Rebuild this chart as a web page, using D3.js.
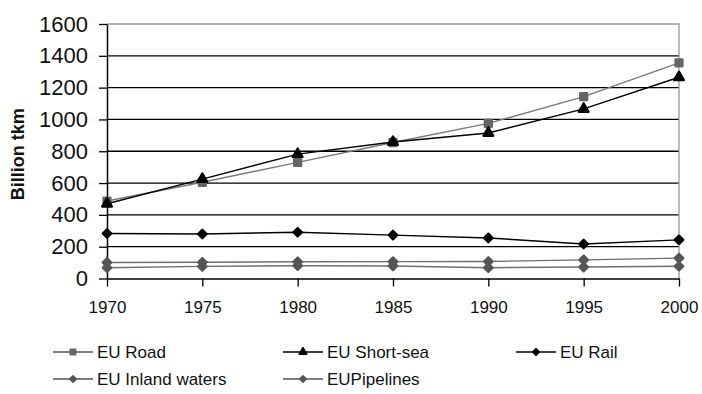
<!DOCTYPE html>
<html>
<head>
<meta charset="utf-8">
<script src="https://cdn.jsdelivr.net/npm/d3@7"></script>
<style>
  html, body { margin: 0; padding: 0; background: #fff; }
  svg { display: block; font-family: "Liberation Sans", Arial, sans-serif; }
</style>
</head>
<body>
<svg id="chart" width="702" height="394"></svg>
<script>
// Freight transport performance, EU, billion tonne-km
const years = [1970, 1975, 1980, 1985, 1990, 1995, 2000];
const road      = [487, 605, 730, 855, 975, 1143, 1356];
const shortSea  = [470, 625, 782, 858, 915, 1066, 1265];
const rail      = [283, 280, 291, 273, 255, 217, 243];
const inland    = [101, 102, 105, 106, 107, 117, 128];
const pipelines = [68, 76, 80, 79, 68, 72, 77];
const yTicks = [0, 200, 400, 600, 800, 1000, 1200, 1400, 1600];
const seriesNames = ["EU Road", "EU Short-sea", "EU Rail", "EU Inland waters", "EUPipelines"];

const series = [
  { name: seriesNames[0], values: road,      line: "#7a7a7a", fill: "#666", symbol: "square" },
  { name: seriesNames[1], values: shortSea,  line: "#000",    fill: "#000", symbol: "triangle" },
  { name: seriesNames[2], values: rail,      line: "#000",    fill: "#000", symbol: "diamond" },
  { name: seriesNames[3], values: inland,    line: "#6e6e6e", fill: "#555", symbol: "diamond" },
  { name: seriesNames[4], values: pipelines, line: "#6e6e6e", fill: "#555", symbol: "diamond" }
];

const svg = d3.select("#chart");
const m = { left: 107, right: 679, top: 24, bottom: 278.5 };

const x = d3.scaleLinear().domain([1970, 2000]).range([m.left, m.right]);
const y = d3.scaleLinear().domain([0, 1600]).range([m.bottom, m.top]);

// horizontal gridlines
svg.append("g")
  .selectAll("line")
  .data(yTicks.filter(d => d > 0 && d < 1600))
  .join("line")
  .attr("x1", m.left).attr("x2", m.right)
  .attr("y1", d => y(d)).attr("y2", d => y(d))
  .attr("stroke", "#000").attr("stroke-width", 1.3);

// plot area border (top and right)
svg.append("path")
  .attr("d", `M${m.left},${y(1600)}H${m.right}V${m.bottom}`)
  .attr("fill", "none").attr("stroke", "#999").attr("stroke-width", 1.3);

// y axis
const yAxis = svg.append("g")
  .attr("transform", `translate(${m.left},0)`)
  .call(d3.axisLeft(y).tickValues(yTicks).tickFormat(d3.format("d"))
    .tickSize(8).tickPadding(11).tickSizeOuter(0));
yAxis.select(".domain").attr("stroke", "#000").attr("stroke-width", 1.5);
yAxis.selectAll(".tick line").attr("stroke", "#000").attr("stroke-width", 1.3);
yAxis.selectAll(".tick text")
  .attr("font-size", 22).attr("fill", "#111")
  .attr("font-family", "Liberation Sans, Arial, sans-serif");

// x axis
const xAxis = svg.append("g")
  .attr("transform", `translate(0,${m.bottom})`)
  .call(d3.axisBottom(x).tickValues(years).tickFormat(d3.format("d"))
    .tickSize(8).tickPadding(14).tickSizeOuter(0));
xAxis.select(".domain").attr("stroke", "#000").attr("stroke-width", 1.5);
xAxis.selectAll(".tick line").attr("stroke", "#000").attr("stroke-width", 1.3);
xAxis.selectAll(".tick text")
  .attr("font-size", 17).attr("fill", "#111")
  .attr("font-family", "Liberation Sans, Arial, sans-serif");

// axis title
svg.append("text")
  .attr("transform", `translate(24,${(m.top + m.bottom) / 2 + 3}) rotate(-90)`)
  .attr("text-anchor", "middle")
  .attr("font-size", 18).attr("font-weight", "bold").attr("fill", "#111")
  .text("Billion tkm");

// marker shapes; the diamond is kept compact so it reads as a round blob
const diamond = {
  draw(ctx, size) {
    const r = Math.sqrt(size) / 2 * 1.15;
    ctx.moveTo(0, -r); ctx.lineTo(r, 0); ctx.lineTo(0, r); ctx.lineTo(-r, 0); ctx.closePath();
  }
};
const symbolType = { square: d3.symbolSquare, triangle: d3.symbolTriangle, diamond: diamond };
const symbolSize = { square: 50, triangle: 42, diamond: 56 };
const marker = (s, k = 1) => d3.symbol().type(symbolType[s]).size(symbolSize[s] * k)();

const line = d3.line().x((d, i) => x(years[i])).y(d => y(d));

series.forEach(s => {
  const g = svg.append("g");
  g.append("path")
    .datum(s.values)
    .attr("d", line)
    .attr("fill", "none")
    .attr("stroke", s.line)
    .attr("stroke-width", 1.4);
  g.selectAll("path.mk")
    .data(s.values)
    .join("path")
    .attr("class", "mk")
    .attr("transform", (d, i) => `translate(${x(years[i])},${y(d)})`)
    .attr("d", marker(s.symbol))
    .attr("fill", s.fill)
    .attr("stroke", s.fill)
    .attr("stroke-width", 2.2)
    .attr("stroke-linejoin", "round");
});

// legend
const legendPos = [
  { x: 53, y: 352 }, { x: 283, y: 352 }, { x: 516, y: 352 },
  { x: 53, y: 379 }, { x: 283, y: 379 }
];
series.forEach((s, i) => {
  const p = legendPos[i];
  const g = svg.append("g").attr("transform", `translate(${p.x},${p.y})`);
  g.append("line").attr("x1", 0).attr("x2", 40).attr("y1", 0).attr("y2", 0)
    .attr("stroke", s.line === "#000" ? "#000" : "#555").attr("stroke-width", 1.4);
  g.append("path")
    .attr("transform", "translate(20,0)")
    .attr("d", marker(s.symbol, 0.6))
    .attr("fill", s.fill).attr("stroke", s.fill).attr("stroke-width", 1.5)
    .attr("stroke-linejoin", "round");
  g.append("text")
    .attr("x", 44).attr("y", 0).attr("dy", "0.35em")
    .attr("font-size", 17).attr("fill", "#111")
    .text(s.name);
});
</script>
</body>
</html>
